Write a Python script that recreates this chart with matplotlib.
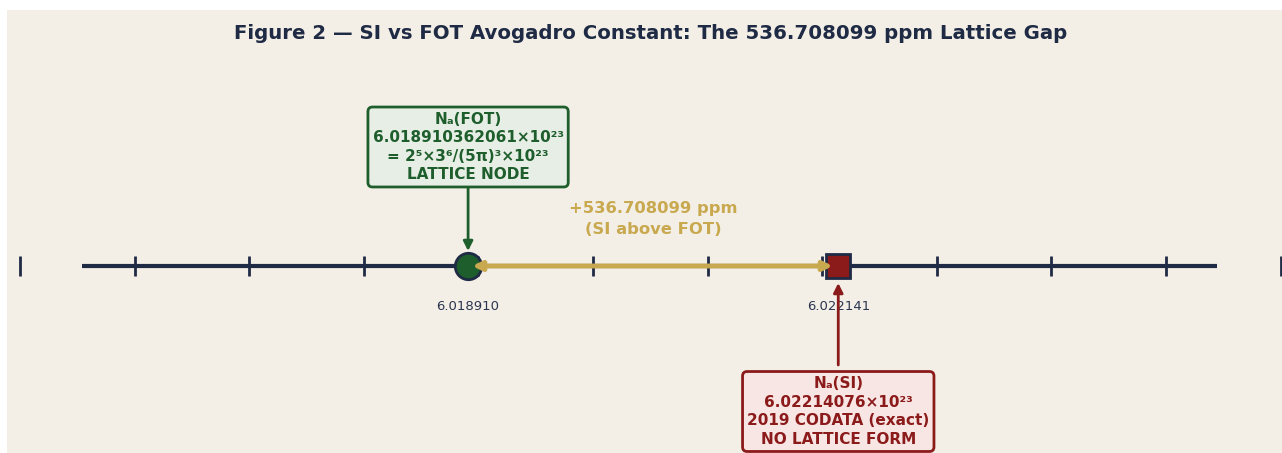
import matplotlib
matplotlib.use("Agg")
import matplotlib.pyplot as plt
from matplotlib.patches import Rectangle, FancyArrowPatch

# ---- data ----
na_fot = 6.018910362061
na_si = 6.02214076
gap_ppm = 536.708099
tick_values = [6.015, 6.016, 6.017, 6.018, 6.019, 6.020, 6.021, 6.022, 6.023, 6.024, 6.025, 6.026]
line_range = [6.015545, 6.025450]
fot_label = "6.018910"
si_label = "6.022141"
fot_box = "Nₐ(FOT)\n6.018910362061×10²³\n= 2⁵×3⁶/(5π)³×10²³\nLATTICE NODE"
si_box = "Nₐ(SI)\n6.02214076×10²³\n2019 CODATA (exact)\nNO LATTICE FORM"
gap_text = "+536.708099 ppm\n(SI above FOT)"
title = "Figure 2 — SI vs FOT Avogadro Constant: The 536.708099 ppm Lattice Gap"

# ---- style ----
BG = "#f3efe7"
NAVY = "#1f2a44"
GREEN = "#1e5e2c"
GREEN_FILL = "#e7eee5"
RED = "#8b1a1a"
RED_FILL = "#f8e6e4"
GOLD = "#c9a94f"

W, H = 1282, 453
fig = plt.figure(figsize=(W / 100, H / 100), dpi=100, facecolor="white")
fig.add_artist(Rectangle((7 / W, 0), 1 - 7 / W, (H - 10) / H, transform=fig.transFigure,
                         facecolor=BG, edgecolor="none", zorder=0))
ax = fig.add_axes([0, 0, 1, 1])
ax.set_facecolor("none")
px = 0.011 / 1261.0
ax.set_xlim(6.015 - 20 * px, 6.026 + 1.5 * px)
ax.set_ylim(H, 0)
ax.axis("off")

y0 = 266
ax.plot(line_range, [y0, y0], color=NAVY, lw=3, solid_capstyle="butt", zorder=2)
ax.plot(tick_values, [y0] * len(tick_values), linestyle="none", marker="|",
        markersize=14, markeredgewidth=2, color=NAVY, zorder=3)

ax.plot([na_fot], [y0], marker="o", markersize=19, markerfacecolor=GREEN,
        markeredgecolor=NAVY, markeredgewidth=2, linestyle="none", zorder=4)
ax.plot([na_si], [y0], marker="s", markersize=17, markerfacecolor=RED,
        markeredgecolor=NAVY, markeredgewidth=2, linestyle="none", zorder=4)

# gap arrow (drawn over the markers)
ax.add_patch(FancyArrowPatch((na_fot, y0), (na_si, y0), arrowstyle="<|-|>",
                             mutation_scale=13, lw=3.5, color=GOLD, zorder=5,
                             shrinkA=3, shrinkB=4))

ax.text(na_fot, 307, fot_label, ha="center", va="center", fontsize=9.5, color="#2b3550")
ax.text(na_si, 307, si_label, ha="center", va="center", fontsize=9.5, color="#2b3550")

ax.text((na_fot + na_si) / 2, 219, gap_text, ha="center", va="center", fontsize=11.8,
        fontweight="bold", color=GOLD, linespacing=1.42)

# FOT box
ax.text(na_fot, 147, fot_box, ha="center", va="center", fontsize=11, fontweight="bold",
        color=GREEN, linespacing=1.3,
        bbox=dict(boxstyle="round,pad=0.3,rounding_size=0.3", facecolor=GREEN_FILL,
                  edgecolor=GREEN, lw=2))
ax.annotate("", xy=(na_fot, 251), xytext=(na_fot, 188),
            arrowprops=dict(arrowstyle="-|>", color=GREEN, lw=2, mutation_scale=14,
                            shrinkA=0, shrinkB=0))

# SI box
ax.text(na_si, 411.5, si_box, ha="center", va="center", fontsize=11, fontweight="bold",
        color=RED, linespacing=1.3,
        bbox=dict(boxstyle="round,pad=0.3,rounding_size=0.3", facecolor=RED_FILL,
                  edgecolor=RED, lw=2))
ax.annotate("", xy=(na_si, 283), xytext=(na_si, 365),
            arrowprops=dict(arrowstyle="-|>", color=RED, lw=2, mutation_scale=14,
                            shrinkA=0, shrinkB=0))

ax.text(0.5 * (ax.get_xlim()[0] + ax.get_xlim()[1]) + 10 * px, 33.5, title, ha="center",
        va="center", fontsize=14.2, fontweight="bold", color=NAVY)

fig.savefig("out.png", dpi=100, facecolor="white")
